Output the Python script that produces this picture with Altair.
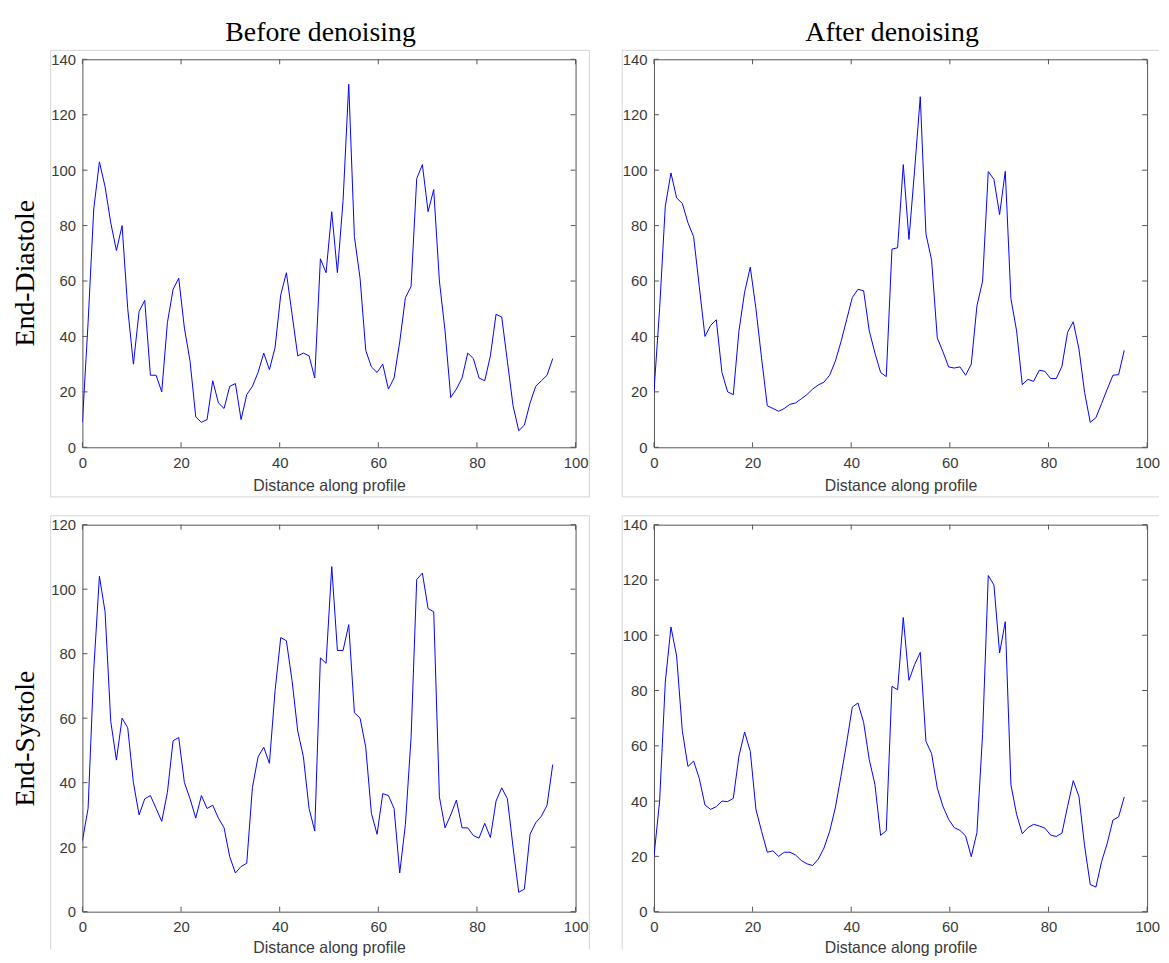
import altair as alt
import pandas as pd

# ---------------- data ----------------
STEP = 1.149  # spacing of profile samples along x

ed_before = [9, 45, 86, 103, 94, 81, 71, 80, 50, 30,
             49, 53, 26, 26, 20, 45, 57, 61, 43, 31,
             11, 9, 10, 24, 16, 14, 22, 23, 10, 19,
             22, 27, 34, 28, 36, 55, 63, 48, 33, 34,
             33, 25, 68, 63, 85, 63, 89, 131, 76, 61,
             35, 29, 27, 30, 21, 25, 38, 54, 58, 97,
             102, 85, 93, 60, 42, 18, 21, 25, 34, 32,
             25, 24, 33, 48, 47, 31, 15, 6, 8, 16,
             22, 24, 26, 32]

ed_after = [20, 50, 87, 99, 90, 88, 81, 76, 58, 40,
            44, 46, 27, 20, 19, 42, 56, 65, 50, 32,
            15, 14, 13, 14, 15.5, 16, 17.5, 19, 21, 22.5,
            23.5, 26, 31, 38, 46, 54, 57, 56.5, 42, 34,
            27, 25.5, 71.5, 72, 102, 75, 100, 126.5, 77, 67.5,
            39.5, 34.5, 29, 28.6, 29, 26, 30, 51, 60, 99.5,
            96.7, 84, 99.6, 53.6, 42, 22.6, 24.5, 23.8, 27.8, 27.4,
            24.8, 24.8, 29.2, 41.5, 45.3, 35.5, 19.8, 9, 10.7, 15.8,
            21, 26, 26.2, 35]

es_before = [22, 32, 75, 104, 93, 59, 47, 60, 57, 40,
             30, 35, 36, 32, 28, 37, 53, 54, 40, 35,
             29, 36, 32, 33, 29, 26, 17, 12, 14, 15,
             38.5, 48, 51, 46, 68.5, 85, 84, 71.6, 56, 48,
             32, 25, 78.7, 77, 107, 81, 81, 89, 61.7, 60,
             51, 30.5, 24, 36.6, 36, 32, 12, 27, 54, 103,
             105, 94, 93, 35.6, 26, 30, 34.6, 26, 26, 23.6,
             22.8, 27.4, 23, 34.3, 38.4, 35, 20, 6, 7, 24,
             27.6, 29.6, 33, 45.6]

es_after = [20, 40, 83, 103, 92.5, 65.5, 52.5, 54.5, 48.2, 38.6,
            37, 38, 40, 39.8, 41, 56.3, 65, 58, 37, 29,
            21.5, 22, 20, 21.5, 21.5, 20.5, 18.5, 17.3, 16.7, 19,
            23, 29, 37.5, 49, 61, 74, 75.5, 68.5, 55, 46,
            27.6, 29.3, 81.5, 80.3, 106.4, 83.7, 89.4, 93.8, 61.6, 57.2,
            44.7, 38.1, 33.4, 30.4, 29.4, 27.4, 19.9, 28.6, 64.4, 121.6,
            118.2, 93.6, 104.9, 45.9, 35.2, 28.2, 30.4, 31.6, 31, 30.2,
            27.7, 27.2, 28.4, 38.1, 47.4, 41.7, 23.8, 9.8, 8.9, 18.1,
            24.8, 33.1, 34.3, 41.5]

x_ticks = [0, 20, 40, 60, 80, 100]
y_ticks_140 = [0, 20, 40, 60, 80, 100, 120, 140]
y_ticks_120 = [0, 20, 40, 60, 80, 100, 120]

col_titles = ["Before denoising", "After denoising"]
row_titles = ["End-Diastole", "End-Systole"]
x_title = "Distance along profile"

# ---------------- style ----------------
W = 497
H_TOP = 391
H_BOT = 390
LINE_COLOR = "#0000ff"
AXIS_COLOR = "#555555"
LABEL_COLOR = "#3a3a3a"
FRAME_COLOR = "#d6d6d6"
SANS = "Liberation Sans"
SERIF = "Liberation Serif"
TICK_LEN = 5


def one_row():
    return pd.DataFrame({"k": [0]})


def seg(x1, x2, y1, y2):
    return (alt.Chart(one_row())
            .mark_rule(color=FRAME_COLOR, strokeWidth=1)
            .encode(x=alt.value(x1), x2=alt.value(x2),
                    y=alt.value(y1), y2=alt.value(y2)))


def panel(values, ymax, yticks, H, col_title=None, row_title=None,
          frame=(), anchor=False, x_title_y=44):
    df = pd.DataFrame({"x": [round(i * STEP, 3) for i in range(len(values))],
                       "y": values})
    xs = alt.Scale(domain=[0, 100], nice=False, zero=False, padding=0)
    ys = alt.Scale(domain=[0, ymax], nice=False, zero=False, padding=0)

    xaxis = alt.Axis(values=x_ticks, ticks=False, domain=False, grid=False,
                     labelFlush=False, labelOverlap=False,
                     labelFont=SANS, labelFontSize=15,
                     labelColor=LABEL_COLOR, labelPadding=8,
                     title=x_title, titleFont=SANS, titleFontSize=16,
                     titleFontWeight="normal", titleColor=LABEL_COLOR,
                     titleBaseline="alphabetic", titleY=x_title_y)
    yargs = dict(values=yticks, ticks=False, domain=False, grid=False,
                 labelFlush=False, labelOverlap=False,
                 labelFont=SANS, labelFontSize=15,
                 labelColor=LABEL_COLOR, labelPadding=7)
    if row_title:
        yargs.update(title=row_title, titleFont=SERIF, titleFontSize=28,
                     titleFontWeight="normal", titleColor="black",
                     titleBaseline="alphabetic", titleX=-49, titleY=215)
    else:
        yargs.update(title="")
    yaxis = alt.Axis(**yargs)

    line = alt.Chart(df).mark_line(color=LINE_COLOR, strokeWidth=1, clip=True).encode(
        x=alt.X("x:Q", scale=xs, axis=xaxis),
        y=alt.Y("y:Q", scale=ys, axis=yaxis),
    )

    tx = pd.DataFrame({"x": x_ticks})
    ty = pd.DataFrame({"y": yticks})
    tick_b = alt.Chart(tx).mark_rule(color=AXIS_COLOR).encode(
        x=alt.X("x:Q", scale=xs, axis=xaxis), y=alt.value(H), y2=alt.value(H - TICK_LEN))
    tick_t = alt.Chart(tx).mark_rule(color=AXIS_COLOR).encode(
        x=alt.X("x:Q", scale=xs, axis=xaxis), y=alt.value(0), y2=alt.value(TICK_LEN))
    tick_l = alt.Chart(ty).mark_rule(color=AXIS_COLOR).encode(
        y=alt.Y("y:Q", scale=ys, axis=yaxis), x=alt.value(0), x2=alt.value(TICK_LEN))
    tick_r = alt.Chart(ty).mark_rule(color=AXIS_COLOR).encode(
        y=alt.Y("y:Q", scale=ys, axis=yaxis), x=alt.value(W), x2=alt.value(W - TICK_LEN))

    layers = []
    if anchor:
        layers.append(alt.Chart(one_row()).mark_rect(
            color="white", opacity=1).encode(
            x=alt.value(-74), x2=alt.value(-73), y=alt.value(-47), y2=alt.value(-46)))
    for f in frame:
        layers.append(seg(*f))
    if col_title:
        layers.append(alt.Chart(one_row()).mark_text(
            text=col_title, font=SERIF, fontSize=28, color="black",
            align="center", baseline="alphabetic").encode(
            x=alt.value(240), y=alt.value(-18.5)))
    layers += [line, tick_b, tick_t, tick_l, tick_r]

    return alt.layer(*layers).properties(width=W, height=H)


tl = panel(ed_before, 140, y_ticks_140, H_TOP, col_titles[0], row_titles[0],
           frame=[(-32, 511, -9, -9), (-32, 511, 441, 441),
                  (-32, -32, -9, 441), (511, 511, -9, 441)], anchor=True)
tr = panel(ed_after, 140, y_ticks_140, H_TOP, col_titles[1], None,
           frame=[(-32, 509, -9, -9), (-32, 509, 441, 441),
                  (-32, -32, -9, 441)])
bl = panel(es_before, 120, y_ticks_120, H_BOT, None, row_titles[1],
           frame=[(-32, 511, -9, -9), (-32, -32, -9, 428),
                  (511, 511, -9, 428)], x_title_y=41)
br = panel(es_after, 140, y_ticks_140, H_BOT, None, None,
           frame=[(-32, 509, -9, -9), (-32, -32, -9, 428)], x_title_y=41)

chart = alt.concat(tl, tr, bl, br, columns=2,
                   spacing={"row": 78, "column": 79},
                   bounds="flush").properties(
    padding=0, background="white"
).configure_view(stroke=AXIS_COLOR, strokeWidth=1)

chart.save("out.html", embed_options={"renderer": "svg", "actions": False})
